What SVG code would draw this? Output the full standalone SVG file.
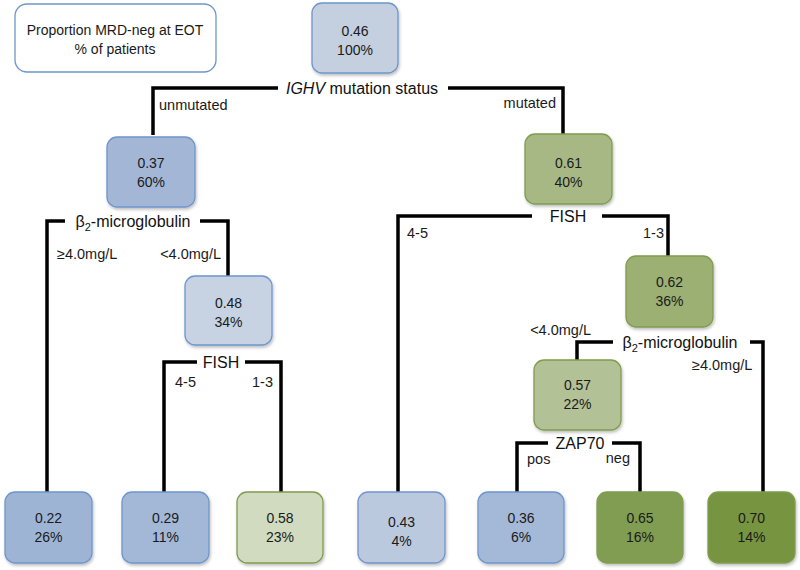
<svg xmlns="http://www.w3.org/2000/svg" width="800" height="570" viewBox="0 0 800 570">
<defs>
<filter id="sh" x="-10%" y="-10%" width="130%" height="130%">
<feDropShadow dx="1" dy="2" stdDeviation="1.5" flood-color="#000" flood-opacity="0.25"/>
</filter>
<style>
.n{stroke-width:1.3;filter:url(#sh)}
.b{stroke:#6f95cb}
.g{stroke:#809c4e}
.t{font-family:"Liberation Sans",Arial,sans-serif;font-size:14px;fill:#1a1a1a;text-anchor:middle}
.l{font-family:"Liberation Sans",Arial,sans-serif;font-size:14.5px;fill:#1a1a1a}
.h{font-family:"Liberation Sans",Arial,sans-serif;font-size:16px;fill:#111;text-anchor:middle}
.c{fill:none;stroke:#000;stroke-width:3.5;stroke-linejoin:miter;stroke-linecap:butt}
</style>
</defs>
<rect width="800" height="570" fill="#fff"/>
<g id="connectors">
<path class="c" d="M153,135 V88 H278"/>
<path class="c" d="M448,88 H563 V134"/>
<path class="c" d="M47,492 V221 H65"/>
<path class="c" d="M200,221 H228 V276"/>
<path class="c" d="M164,492 V362 H197"/>
<path class="c" d="M245,362 H281 V492"/>
<path class="c" d="M398,492 V216 H532"/>
<path class="c" d="M602,216 H668 V256"/>
<path class="c" d="M577,360 V342 H613"/>
<path class="c" d="M750,342 H763 V492"/>
<path class="c" d="M517,492 V443 H548"/>
<path class="c" d="M612,443 H640 V492"/>
</g>
<g id="labels">
<text class="h" x="362" y="94"><tspan font-style="italic">IGHV</tspan> mutation status</text>
<text class="l" x="159" y="110">unmutated</text>
<text class="l" x="556" y="108" text-anchor="end">mutated</text>
<text class="h" x="133" y="227">β<tspan font-size="11" dy="4">2</tspan><tspan dy="-4">-microglobulin</tspan></text>
<text class="l" x="57" y="259">≥4.0mg/L</text>
<text class="l" x="221" y="259" text-anchor="end">&lt;4.0mg/L</text>
<text class="h" x="221" y="368">FISH</text>
<text class="l" x="175" y="387">4-5</text>
<text class="l" x="273" y="387" text-anchor="end">1-3</text>
<text class="h" x="568" y="222">FISH</text>
<text class="l" x="407" y="238">4-5</text>
<text class="l" x="664" y="238" text-anchor="end">1-3</text>
<text class="h" x="680" y="348">β<tspan font-size="11" dy="4">2</tspan><tspan dy="-4">-microglobulin</tspan></text>
<text class="l" x="591" y="335" text-anchor="end">&lt;4.0mg/L</text>
<text class="l" x="692" y="370">≥4.0mg/L</text>
<text class="h" x="580" y="449">ZAP70</text>
<text class="l" x="527" y="464">pos</text>
<text class="l" x="630" y="463" text-anchor="end">neg</text>
</g>
<g id="legend">
<rect x="15" y="4" width="201" height="68" rx="12" fill="#fff" stroke="#6f95cb" stroke-width="1.3"/>
<text class="t" x="115" y="35">Proportion MRD-neg at EOT</text>
<text class="t" x="115" y="54">% of patients</text>
</g>
<g id="n046"><rect class="n b" x="312" y="3" width="86" height="70" rx="10" fill="#c4cfdf"/><text class="t" x="355" y="36">0.46</text><text class="t" x="355" y="55">100%</text></g>
<g id="n037"><rect class="n b" x="107" y="137" width="88" height="70" rx="10" fill="#a3b6d6"/><text class="t" x="151" y="168">0.37</text><text class="t" x="151" y="187">60%</text></g>
<g id="n061"><rect class="n g" x="525" y="134" width="87" height="70" rx="10" fill="#a7b885"/><text class="t" x="568.5" y="168">0.61</text><text class="t" x="568.5" y="187">40%</text></g>
<g id="n048"><rect class="n b" x="185" y="276" width="87" height="69" rx="10" fill="#c7d2e3"/><text class="t" x="228.5" y="308">0.48</text><text class="t" x="228.5" y="327">34%</text></g>
<g id="n062"><rect class="n g" x="626" y="256" width="87" height="71" rx="10" fill="#9cb073"/><text class="t" x="669.5" y="287">0.62</text><text class="t" x="669.5" y="306">36%</text></g>
<g id="n057"><rect class="n g" x="534" y="360" width="87" height="70" rx="10" fill="#b3c197"/><text class="t" x="577.5" y="390">0.57</text><text class="t" x="577.5" y="409">22%</text></g>
<g id="n022"><rect class="n b" x="5" y="492" width="87" height="71" rx="10" fill="#9eb4d5"/><text class="t" x="48.5" y="523">0.22</text><text class="t" x="48.5" y="542">26%</text></g>
<g id="n029"><rect class="n b" x="122" y="492" width="87" height="71" rx="10" fill="#a3b7d6"/><text class="t" x="165.5" y="523">0.29</text><text class="t" x="165.5" y="542">11%</text></g>
<g id="n058"><rect class="n g" x="237" y="492" width="86" height="71" rx="10" fill="#d1dbc0"/><text class="t" x="280" y="523">0.58</text><text class="t" x="280" y="542">23%</text></g>
<g id="n043"><rect class="n b" x="358" y="492" width="87" height="71" rx="10" fill="#bbc9df"/><text class="t" x="401.5" y="527">0.43</text><text class="t" x="401.5" y="546">4%</text></g>
<g id="n036"><rect class="n b" x="478" y="492" width="86" height="71" rx="10" fill="#a4b8d7"/><text class="t" x="521" y="523">0.36</text><text class="t" x="521" y="542">6%</text></g>
<g id="n065"><rect class="n g" x="597" y="492" width="86" height="71" rx="10" fill="#819d51"/><text class="t" x="640" y="523">0.65</text><text class="t" x="640" y="542">16%</text></g>
<g id="n070"><rect class="n g" x="708" y="492" width="87" height="71" rx="10" fill="#779440"/><text class="t" x="751.5" y="523">0.70</text><text class="t" x="751.5" y="542">14%</text></g>
</svg>
